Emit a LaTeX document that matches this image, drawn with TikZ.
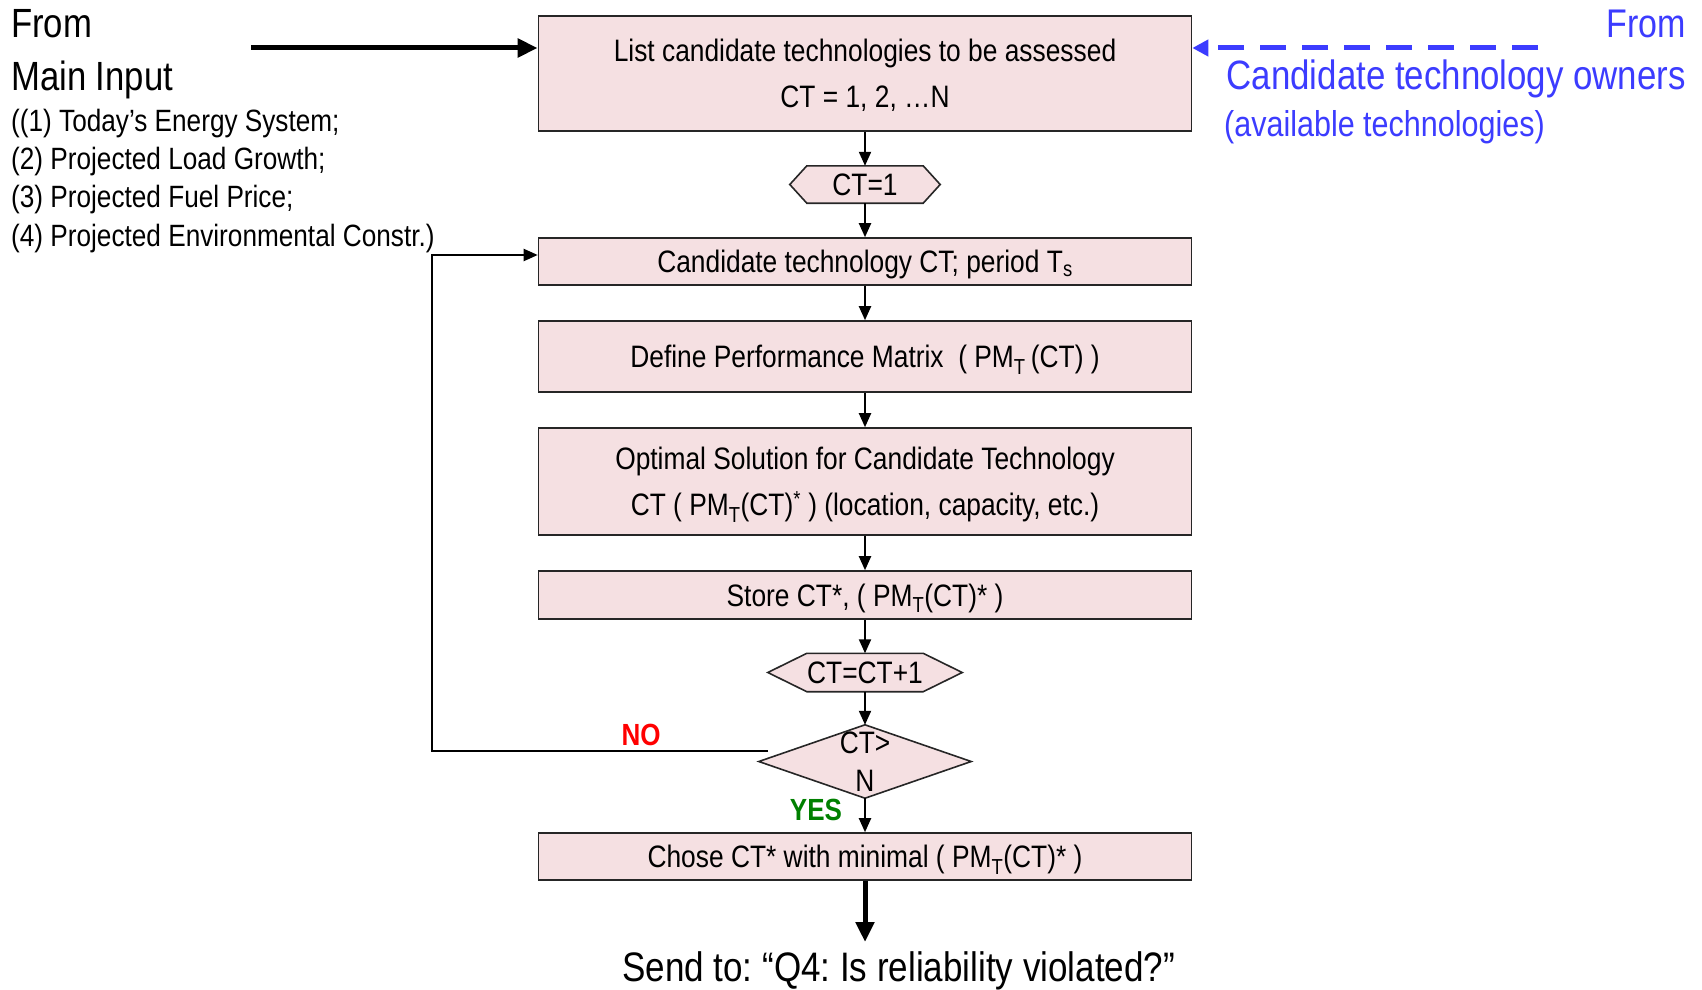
\documentclass[tikz,border=0pt]{standalone}
\usepackage{fontspec}
\setmainfont{Liberation Sans}[FakeStretch=0.85]
\usetikzlibrary{arrows.meta,backgrounds}
\definecolor{boxfill}{RGB}{245,224,226}
\definecolor{ownblue}{RGB}{60,60,255}
\definecolor{nored}{RGB}{255,0,0}
\definecolor{yesgreen}{RGB}{0,128,0}
\frenchspacing
\begin{document}
\begin{tikzpicture}[x=1pt,y=-1pt,
  box/.style={draw=black!85, line width=1.6pt, fill=boxfill, minimum width=653pt, align=center, inner sep=0pt, text depth=-4pt, font=\fontsize{31}{46}\selectfont},
  shapetext/.style={inner sep=0pt, minimum width=116pt, align=center, text depth=0pt, font=\fontsize{31}{38}\selectfont},
  shapeline/.style={draw=black!85, line width=1.6pt, fill=boxfill},
  arr/.style={line width=2pt, -{Triangle[length=14pt,width=12pt]}},
  thickarr/.style={line width=5pt, -{Triangle[length=20pt,width=18pt]}},
  lefttext/.style={anchor=west, inner sep=0pt},
  bluetext/.style={inner sep=0pt, text=ownblue}
]
\useasboundingbox (0,0) rectangle (1702,990);

% left input texts
\node[lefttext, font=\fontsize{40.8}{44}\selectfont] (from) at (11,24) {From};
\node[lefttext, font=\fontsize{40.8}{44}\selectfont] (main) at (11,80) {Main Input};
\node[lefttext, font=\fontsize{30.8}{34}\selectfont] (it1) at (11,124) {((1) Today’s Energy System;};
\node[lefttext, font=\fontsize{30.8}{34}\selectfont] (it2) at (11,162) {(2) Projected Load Growth;};
\node[lefttext, font=\fontsize{30.8}{34}\selectfont] (it3) at (11,200) {(3) Projected Fuel Price;};
\node[lefttext, font=\fontsize{30.8}{34}\selectfont] (it4) at (11,238.5) {(4) Projected Environmental Constr.)};

% blue texts
\node[bluetext, anchor=east, font=\fontsize{40}{44}\selectfont] (bfrom) at (1686,24) {From};
\node[bluetext, anchor=east, font=\fontsize{41}{44}\selectfont] (bown) at (1686,79) {Candidate technology owners};
\node[bluetext, anchor=west, font=\fontsize{35.9}{40}\selectfont] (bavail) at (1224,127) {(available technologies)};

% boxes
\node[box, minimum height=115pt] (b1) at (865,73.5) {List candidate technologies to be assessed\\CT = 1, 2, …N};
\node[shapetext, minimum height=37pt] (h1) at (865,184.5) {CT=1};
\node[box, minimum height=47pt] (b2) at (865,261.5) {Candidate technology CT; period T\textsubscript{s}};
\node[box, minimum height=71pt] (b3) at (865,356.5) {Define Performance Matrix \ ( PM\textsubscript{T}\,(CT) )};
\node[box, minimum height=107pt] (b4) at (865,481.5) {Optimal Solution for Candidate Technology\\CT ( PM\textsubscript{T}(CT)\textsuperscript{*} ) (location, capacity, etc.)};
\node[box, minimum height=48pt] (b5) at (865,595) {Store CT*, ( PM\textsubscript{T}(CT)* )};
\node[shapetext, minimum height=38pt] (h2) at (865,672.5) {CT=CT+1};
\node[shapetext, minimum width=212pt, minimum height=73pt] (dm) at (865,761.5) {CT>\\N};
\node[box, minimum height=47pt] (b6) at (865,856.5) {Chose CT* with minimal ( PM\textsubscript{T}(CT)* )};
\node[anchor=west, inner sep=0pt, font=\fontsize{41.2}{44}\selectfont] (send) at (622,971) {Send to: “Q4: Is reliability violated?”};

% hexagons and diamond
\begin{scope}[on background layer]
\path[shapeline] (h1.north west) -- (h1.north east) -- ([xshift=17pt]h1.east) -- (h1.south east) -- (h1.south west) -- ([xshift=-17pt]h1.west) -- cycle;
\path[shapeline] (h2.north west) -- (h2.north east) -- ([xshift=39pt]h2.east) -- (h2.south east) -- (h2.south west) -- ([xshift=-39pt]h2.west) -- cycle;
\path[shapeline] (dm.north) -- (dm.east) -- (dm.south) -- (dm.west) -- cycle;
\end{scope}

% labels
\node[inner sep=0pt, text=nored, font=\bfseries\fontsize{30.6}{34}\selectfont] (no) at (641,735) {NO};
\node[inner sep=0pt, text=yesgreen, font=\bfseries\fontsize{30.6}{34}\selectfont] (yes) at (816,810) {YES};

% coordinates
\coordinate (mainarr) at (251,48);
\coordinate (ownarr) at (1538,48);
\coordinate (nofrom) at (768,751);
\coordinate (fbcorner) at (432,751);
\coordinate (fbtop) at (432,255);
\coordinate (sendc) at (865,942);

% connectors
\draw[thickarr] (mainarr) -- (mainarr -| b1.west);
\draw[ownblue, line width=5pt, dash pattern=on 26pt off 16pt, -{Triangle[length=16pt,width=16pt]}] (ownarr) -- (ownarr -| b1.east);
\draw[arr] (b1.south) -- (h1.north);
\draw[arr] (h1.south) -- (b2.north);
\draw[arr] (b2.south) -- (b3.north);
\draw[arr] (b3.south) -- (b4.north);
\draw[arr] (b4.south) -- (b5.north);
\draw[arr] (b5.south) -- (h2.north);
\draw[arr] (h2.south) -- (dm.north);
\draw[arr] (dm.south) -- (b6.north);
\draw[arr] (nofrom) -- (fbcorner) -- (fbtop) -- (fbtop -| b2.west);
\draw[thickarr] (b6.south) -- (sendc);
\end{tikzpicture}
\end{document}
